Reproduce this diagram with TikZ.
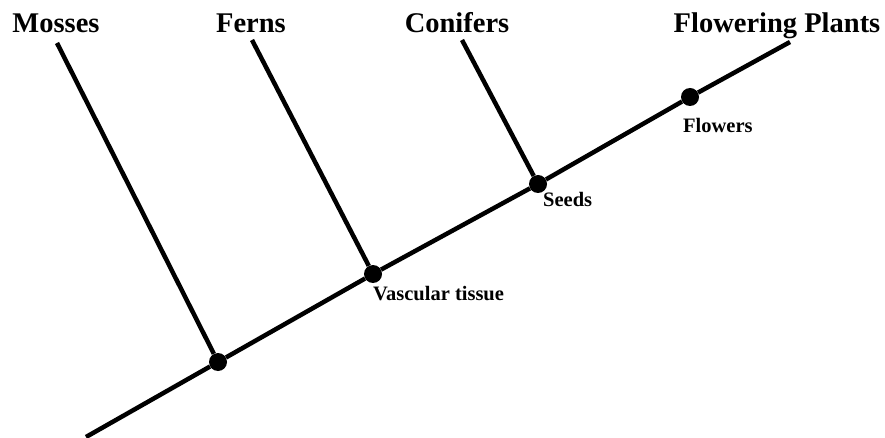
\documentclass[tikz,border=0pt]{standalone}
\usepackage{fontspec}
\setmainfont{Liberation Serif}
\usetikzlibrary{positioning}
\begin{document}
\begin{tikzpicture}[
    x=1pt, y=-1pt,
    every node/.style={font=\bfseries},
    vert/.style={circle,fill=black,inner sep=0pt,minimum size=18pt},
    taxon/.style={font=\fontsize{28.5}{30}\selectfont\bfseries,anchor=base,inner sep=0pt},
    trait/.style={font=\fontsize{20.5}{22}\selectfont\bfseries,anchor=base west,inner sep=0pt},
    branch/.style={black,line width=4.5pt},
  ]
  \useasboundingbox (0,0) rectangle (885,438);
  % tips and root
  \coordinate (root) at (86,437);
  \coordinate (tmos) at (57,43);
  \coordinate (tfer) at (252,40);
  \coordinate (tcon) at (462,40);
  \coordinate (tflo) at (790,42);
  % nodes on the main line
  \node[vert] (d1) at (218,362) {};
  \node[vert] (d2) at (373,274) {};
  \node[vert] (d3) at (538,184) {};
  \node[vert] (d4) at (690,97)  {};
  % taxa
  \node[taxon] (mosses)  at (56,33)  {Mosses};
  \node[taxon] (ferns)   at (251,33) {Ferns};
  \node[taxon] (conif)   at (457,33) {Conifers};
  \node[taxon] (flplant) at (777,33) {Flowering Plants};
  % traits
  \node[trait] (vasc)  at (373,300) {Vascular tissue};
  \node[trait] (seeds) at (543,207) {Seeds};
  \node[trait] (flows) at (683,133) {Flowers};
  % lines
  \draw[branch] (root) -- (d1) -- (d2) -- (d3) -- (d4) -- (tflo);
  \draw[branch] (tmos) -- (d1);
  \draw[branch] (tfer) -- (d2);
  \draw[branch] (tcon) -- (d3);
\end{tikzpicture}
\end{document}
